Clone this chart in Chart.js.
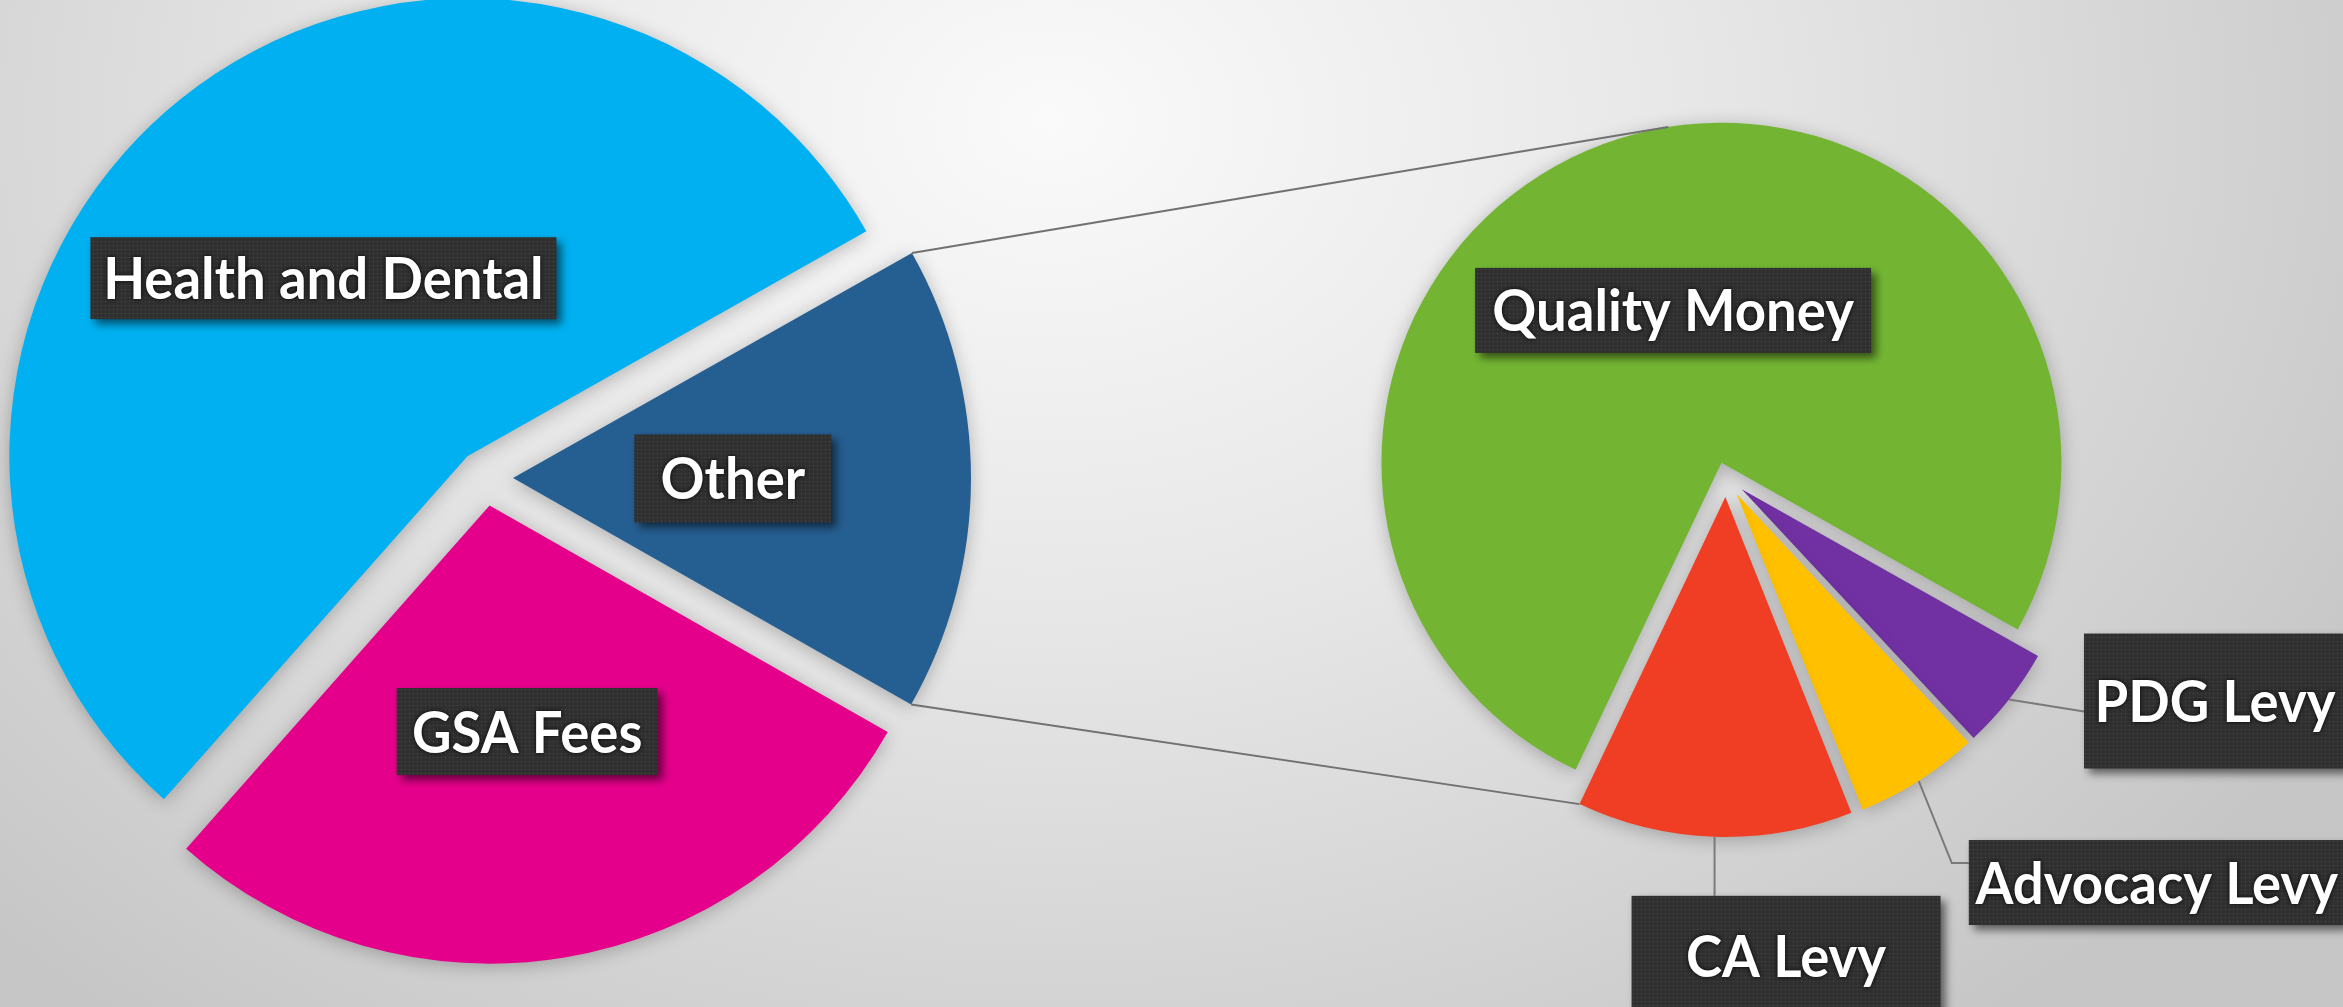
<!DOCTYPE html>
<html>
<head>
<meta charset="utf-8">
<title>Pie of pie</title>
<script src="https://cdn.jsdelivr.net/npm/chart.js@4/dist/chart.umd.min.js"></script>
<style>
    html, body {
        margin: 0;
        padding: 0;
        width: 2343px;
        height: 1007px;
        overflow: hidden;
        background: radial-gradient(ellipse 1500px 1150px at 1050px 120px, #fafafa 0%, #e6e6e6 45%, #c6c6c6 100%);
    }
    canvas {
        position: absolute;
        left: 0;
        top: 0;
    }
</style>
</head>
<body>
<canvas id="main-pie" width="2343" height="1007"></canvas>
<canvas id="sub-pie" width="2343" height="1007"></canvas>
<script>
(function () {
    'use strict';

    // main pie (left)
    var mainLabels = ['Health and Dental', 'Other', 'GSA Fees'];
    var mainValues = [55.3, 16.4, 28.3];
    var mainColors = ['#00b0f0', '#255e91', '#e5008b'];

    // breakdown of "Other" (right)
    var subLabels = ['Quality Money', 'PDG Levy', 'Advocacy Levy', 'CA Levy'];
    var subValues = [76.1, 4.9, 5.9, 13.1];
    var subColors = ['#73b533', '#7131a3', '#ffc000', '#ef3e24'];

    var LABEL_FONT = 'bold 58px Lato';
    var LABEL_SQUEEZE = 0.94; // labels in the original use a narrow font

    // label boxes: r = position along the slice's middle angle (share of radius),
    // callouts are placed relative to the middle of the slice's outer edge
    var mainBoxes = {
        'Health and Dental': { r: 0.5, w: 466, h: 82 },
        'Other': { r: 0.48, w: 197, h: 88 },
        'GSA Fees': { r: 0.5, w: 261, h: 87 },
    };
    var subBoxes = {
        'Quality Money': { r: 0.47, w: 396, h: 85 },
        'PDG Levy': { dx: 75, dy: -66, w: 262, h: 135, lead: 'side', ly: 78 },
        'Advocacy Levy': { dx: 50, dy: 59, w: 376, h: 85, lead: 'elbow', ex: 33, ly: 23 },
        'CA Levy': { dx: -83, dy: 59, w: 309, h: 120, lead: 'down' },
    };

    var connectorTopAngle = -99; // degrees, where the upper connector meets the second pie

    var boxFill = null;

    function getBoxFill(ctx) {
        if (boxFill) return boxFill;
        var tile = document.createElement('canvas');
        tile.width = 4;
        tile.height = 4;
        var t = tile.getContext('2d');
        t.fillStyle = '#303030';
        t.fillRect(0, 0, 4, 4);
        t.fillStyle = '#4d4d4d';
        t.fillRect(1, 1, 1, 1);
        boxFill = ctx.createPattern(tile, 'repeat');
        return boxFill;
    }

    function drawLabelBox(ctx, x, y, w, h, text) {
        ctx.save();
        ctx.shadowColor = 'rgba(0,0,0,0.55)';
        ctx.shadowBlur = 8;
        ctx.shadowOffsetX = 5;
        ctx.shadowOffsetY = 5;
        ctx.fillStyle = getBoxFill(ctx);
        ctx.fillRect(x, y, w, h);
        ctx.restore();

        ctx.save();
        ctx.translate(x + w / 2, y + h / 2 + 21);
        ctx.scale(LABEL_SQUEEZE, 1);
        ctx.font = LABEL_FONT;
        ctx.textAlign = 'center';
        ctx.textBaseline = 'alphabetic';
        ctx.shadowColor = 'rgba(0,0,0,0.9)';
        ctx.shadowBlur = 5;
        ctx.fillStyle = '#ffffff';
        ctx.fillText(text, 0, 0);
        ctx.restore();
    }

    // move each slice out along its middle angle by dataset.explode[i] pixels
    var explodePlugin = {
        id: 'explode',
        afterDatasetUpdate: function (chart, args) {
            var ds = chart.data.datasets[args.index];
            var dist = ds.explode || [];
            args.meta.data.forEach(function (arc, i) {
                var d = dist[i] || 0;
                var mid = (arc.startAngle + arc.endAngle) / 2;
                arc.x += Math.cos(mid) * d;
                arc.y += Math.sin(mid) * d;
            });
        },
    };

    var shadowPlugin = {
        id: 'pieShadow',
        beforeDatasetsDraw: function (chart) {
            var ctx = chart.ctx;
            ctx.save();
            ctx.shadowColor = 'rgba(0,0,0,0.25)';
            ctx.shadowBlur = 18;
            ctx.shadowOffsetY = 3;
        },
        afterDatasetsDraw: function (chart) {
            chart.ctx.restore();
        },
    };

    function makeLabelPlugin(labels, boxes) {
        return {
            id: 'sliceLabels',
            afterDraw: function (chart) {
                var ctx = chart.ctx;
                var arcs = chart.getDatasetMeta(0).data;
                labels.forEach(function (label, i) {
                    var b = boxes[label];
                    var arc = arcs[i];
                    if (!b || !arc) return;
                    var mid = (arc.startAngle + arc.endAngle) / 2;
                    var R = arc.outerRadius;
                    var bx, by;
                    if (b.r !== undefined) {
                        var cx = arc.x + Math.cos(mid) * R * b.r;
                        var cy = arc.y + Math.sin(mid) * R * b.r;
                        bx = cx - b.w / 2;
                        by = cy - b.h / 2;
                    } else {
                        var ox = arc.x + Math.cos(mid) * R;
                        var oy = arc.y + Math.sin(mid) * R;
                        bx = ox + b.dx;
                        by = oy + b.dy;
                        ctx.save();
                        ctx.strokeStyle = '#7a7a7a';
                        ctx.lineWidth = 2;
                        ctx.beginPath();
                        ctx.moveTo(ox, oy);
                        if (b.lead === 'side') {
                            ctx.lineTo(bx, by + b.ly);
                        } else if (b.lead === 'elbow') {
                            ctx.lineTo(ox + b.ex, by + b.ly);
                            ctx.lineTo(bx, by + b.ly);
                        } else {
                            ctx.lineTo(ox, by);
                        }
                        ctx.stroke();
                        ctx.restore();
                    }
                    drawLabelBox(ctx, bx, by, b.w, b.h, label);
                });
            },
        };
    }

    function baseOptions(radius, rotation, padding) {
        return {
            responsive: false,
            animation: false,
            devicePixelRatio: 1,
            events: [],
            radius: radius,
            rotation: rotation,
            layout: { padding: padding },
            plugins: {
                legend: { display: false },
                tooltip: { enabled: false },
            },
        };
    }

    var mainChart = new Chart(document.getElementById('main-pie'), {
        type: 'pie',
        data: {
            labels: mainLabels,
            datasets: [
                {
                    data: mainValues,
                    backgroundColor: mainColors,
                    borderWidth: 0,
                    explode: [28, 28, 28],
                },
            ],
        },
        options: baseOptions(458, 221.5, { left: 0, right: 1373, top: 0, bottom: 51 }),
        plugins: [explodePlugin, shadowPlugin, makeLabelPlugin(mainLabels, mainBoxes)],
    });

    // lines joining the "Other" slice to the second pie
    var connectorPlugin = {
        id: 'connectors',
        afterDraw: function (chart) {
            var ctx = chart.ctx;
            var other = mainChart.getDatasetMeta(0).data[mainLabels.indexOf('Other')];
            var subArcs = chart.getDatasetMeta(0).data;
            var big = subArcs[0];
            var last = subArcs[subArcs.length - 1];
            if (!other || !big || !last) return;

            var a = (connectorTopAngle * Math.PI) / 180;
            var topEnd = { x: big.x + Math.cos(a) * big.outerRadius, y: big.y + Math.sin(a) * big.outerRadius };
            var lowEnd = {
                x: last.x + Math.cos(last.endAngle) * last.outerRadius,
                y: last.y + Math.sin(last.endAngle) * last.outerRadius,
            };
            var R = other.outerRadius;

            ctx.save();
            ctx.strokeStyle = '#717171';
            ctx.lineWidth = 2;
            ctx.beginPath();
            ctx.moveTo(other.x + Math.cos(other.startAngle) * R, other.y + Math.sin(other.startAngle) * R);
            ctx.lineTo(topEnd.x, topEnd.y);
            ctx.moveTo(other.x + Math.cos(other.endAngle) * R, other.y + Math.sin(other.endAngle) * R);
            ctx.lineTo(lowEnd.x, lowEnd.y);
            ctx.stroke();
            ctx.restore();
        },
    };

    new Chart(document.getElementById('sub-pie'), {
        type: 'pie',
        data: {
            labels: subLabels,
            datasets: [
                {
                    data: subValues,
                    backgroundColor: subColors,
                    borderWidth: 0,
                    explode: [15, 20, 20, 20],
                },
            ],
        },
        options: baseOptions(340, 205.4, { left: 1226, right: 117, top: 0, bottom: 53 }),
        plugins: [explodePlugin, shadowPlugin, connectorPlugin, makeLabelPlugin(subLabels, subBoxes)],
    });
})();
</script>
</body>
</html>
